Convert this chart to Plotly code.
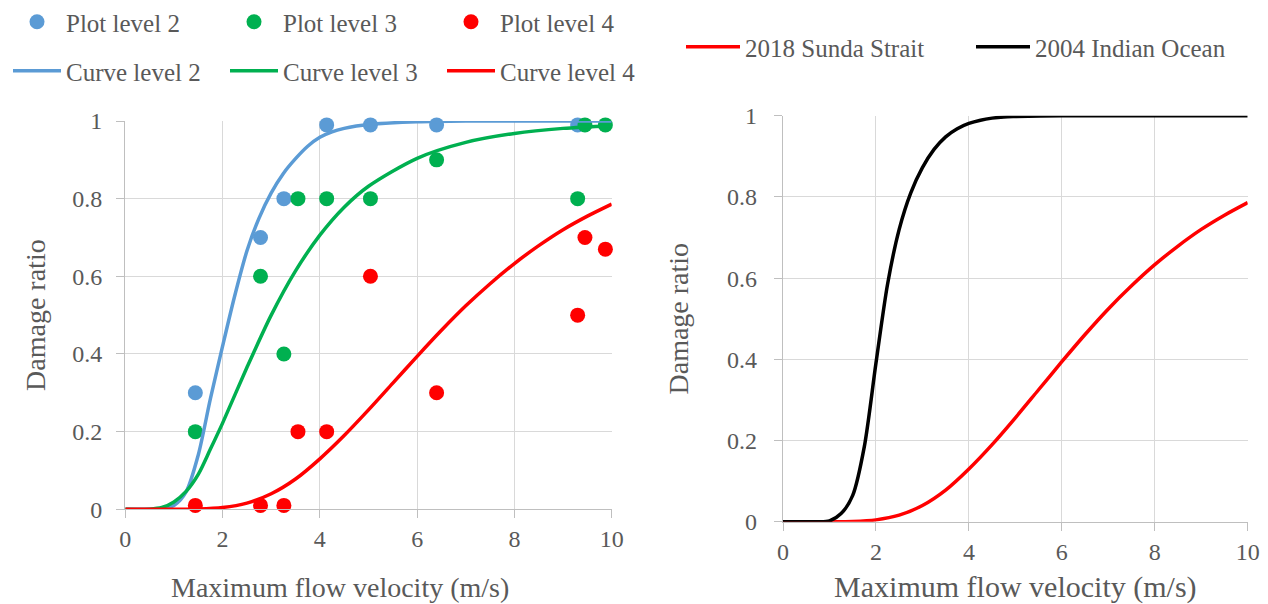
import plotly.graph_objects as go

FONT = "'Liberation Serif', 'Times New Roman', serif"
GRAY = "#595959"

# ---------------- data ----------------
# observed damage ratios (left panel)
obs_x_l2 = [1.44, 2.78, 3.26, 4.14, 5.04, 6.40, 9.30]
obs_y_l2 = [0.30, 0.70, 0.80, 0.99, 0.99, 0.99, 0.99]

obs_x_l3 = [1.44, 2.78, 3.26, 3.55, 4.14, 5.04, 6.40, 9.30, 9.45, 9.87]
obs_y_l3 = [0.20, 0.60, 0.40, 0.80, 0.80, 0.80, 0.90, 0.80, 0.99, 0.99]

obs_x_l4 = [1.44, 2.78, 3.26, 3.55, 4.14, 5.04, 6.40, 9.30, 9.45, 9.87]
obs_y_l4 = [0.01, 0.01, 0.01, 0.20, 0.20, 0.60, 0.30, 0.50, 0.70, 0.67]

# fragility curves (left panel)
curve_x_l2 = [0, 0.25, 0.5, 0.75, 1.0, 1.25, 1.5, 1.75, 2.0, 2.25, 2.5, 2.75,
              3.0, 3.25, 3.5, 3.75, 4.0, 4.25, 4.5, 4.75, 5.0, 6.0, 7.0, 8.0,
              9.0, 10.0]
curve_y_l2 = [0, 0, 0, 0.001, 0.01, 0.045, 0.14, 0.285, 0.42, 0.55, 0.665,
              0.75, 0.815, 0.865, 0.903, 0.935, 0.958, 0.972, 0.981, 0.987,
              0.991, 0.998, 1.0, 1.0, 1.0, 1.0]

curve_x_l3 = [0, 0.5, 0.75, 1.0, 1.25, 1.5, 1.75, 2.0, 2.5, 3.0, 3.5, 4.0,
              4.5, 5.0, 6.0, 7.0, 8.0, 9.0, 10.0]
curve_y_l3 = [0, 0.0004, 0.0045, 0.019, 0.046, 0.09, 0.155, 0.222, 0.365, 0.5,
              0.614, 0.706, 0.778, 0.832, 0.904, 0.945, 0.968, 0.981, 0.988]

curve_x_l4 = [0, 0.5, 1.0, 1.5, 2.0, 2.5, 3.0, 3.5, 4.0, 4.5, 5.0, 5.5, 6.0,
              6.5, 7.0, 7.5, 8.0, 8.5, 9.0, 9.5, 10.0]
curve_y_l4 = [0, 0, 0, 0.0007, 0.0045, 0.016, 0.04, 0.078, 0.13, 0.19, 0.256,
              0.325, 0.394, 0.461, 0.524, 0.581, 0.633, 0.679, 0.72, 0.755, 0.786]

# right panel curves
sunda_x = [0, 0.5, 1.0, 1.5, 2.0, 2.5, 3.0, 3.5, 4.0, 4.5, 5.0, 5.5, 6.0,
           6.5, 7.0, 7.5, 8.0, 8.5, 9.0, 9.5, 10.0]
sunda_y = [0, 0, 0, 0.0007, 0.0045, 0.016, 0.04, 0.078, 0.13, 0.19, 0.256,
           0.325, 0.394, 0.461, 0.524, 0.581, 0.633, 0.679, 0.72, 0.755, 0.786]

indian_x = [0, 0.25, 0.5, 0.75, 1.0, 1.25, 1.5, 1.75, 2.0, 2.25, 2.5, 2.75,
            3.0, 3.25, 3.5, 3.75, 4.0, 4.25, 4.5, 4.75, 5.0, 6.0, 7.0, 8.0,
            9.0, 10.0]
indian_y = [0, 0, 0, 0, 0.002, 0.02, 0.065, 0.185, 0.39, 0.585, 0.72, 0.81,
            0.872, 0.917, 0.948, 0.968, 0.981, 0.989, 0.994, 0.997, 0.998,
            1.0, 1.0, 1.0, 1.0, 1.0]

x_tick_vals = [0, 2, 4, 6, 8, 10]
x_tick_text = ["0", "2", "4", "6", "8", "10"]
y_tick_vals = [0, 0.2, 0.4, 0.6, 0.8, 1.0]
y_tick_text = ["0", "0.2", "0.4", "0.6", "0.8", "1"]

x_title = "Maximum flow velocity (m/s)"
y_title = "Damage ratio"

BLUE = "#5B9BD5"
GREEN = "#00B050"
RED = "#FF0000"
BLACK = "#000000"

# page has an 8 px body margin; the figure fills the rest of the window
W, H = 1260, 596

# ---------------- figure ----------------
fig = go.Figure()

for xs, ys, nm, col in [(obs_x_l2, obs_y_l2, "Plot level 2", BLUE),
                        (obs_x_l3, obs_y_l3, "Plot level 3", GREEN),
                        (obs_x_l4, obs_y_l4, "Plot level 4", RED)]:
    fig.add_trace(go.Scatter(x=xs, y=ys, mode="markers", name=nm,
                             marker=dict(color=col, size=15),
                             cliponaxis=False, legend="legend",
                             xaxis="x", yaxis="y"))

for xs, ys, nm, col in [(curve_x_l2, curve_y_l2, "Curve level 2", BLUE),
                        (curve_x_l3, curve_y_l3, "Curve level 3", GREEN),
                        (curve_x_l4, curve_y_l4, "Curve level 4", RED)]:
    fig.add_trace(go.Scatter(x=xs, y=ys, mode="lines", name=nm,
                             line=dict(color=col, width=3.5, shape="spline",
                                       smoothing=0.8),
                             cliponaxis=False, legend="legend2",
                             xaxis="x", yaxis="y"))

for xs, ys, nm, col in [(sunda_x, sunda_y, "2018 Sunda Strait", RED),
                        (indian_x, indian_y, "2004 Indian Ocean", BLACK)]:
    fig.add_trace(go.Scatter(x=xs, y=ys, mode="lines", name=nm,
                             line=dict(color=col, width=3.5, shape="spline",
                                       smoothing=0.8),
                             cliponaxis=False, legend="legend3",
                             xaxis="x2", yaxis="y2"))

axis_common = dict(showgrid=True, gridcolor="#D9D9D9", gridwidth=1,
                   showline=True, linecolor="#BFBFBF", linewidth=1.3,
                   ticks="outside", ticklen=8, tickcolor="#BFBFBF",
                   tickwidth=1.3, automargin=False,
                   tickfont=dict(family=FONT, size=24, color=GRAY),
                   zeroline=False, fixedrange=True)

title_font = dict(family=FONT, size=28, color=GRAY)
title_font_r = dict(family=FONT, size=30, color=GRAY)
legend_font = dict(family=FONT, size=25, color=GRAY)

fig.update_layout(
    width=W, height=H,
    margin=dict(l=0, r=0, t=0, b=0, autoexpand=False),
    paper_bgcolor="white", plot_bgcolor="white",
    font=dict(family=FONT, color=GRAY),
    xaxis=dict(domain=[117.3 / W, 603.7 / W], range=[0, 10], anchor="y",
               tickvals=x_tick_vals, ticktext=x_tick_text,
               **axis_common),
    yaxis=dict(domain=[1 - 501.3 / H, 1 - 113 / H], range=[0, 1], anchor="x",
               tickvals=y_tick_vals, ticktext=y_tick_text,
               ticklabelstandoff=9,
               title=dict(text=y_title, font=title_font, standoff=18),
               **axis_common),
    xaxis2=dict(domain=[775 / W, 1239.7 / W], range=[0, 10], anchor="y2",
                tickvals=x_tick_vals, ticktext=x_tick_text,
                title=dict(text=x_title, font=title_font_r, standoff=12),
                **axis_common),
    yaxis2=dict(domain=[1 - 513.7 / H, 1 - 107.7 / H], range=[0, 1],
                anchor="x2",
                tickvals=y_tick_vals, ticktext=y_tick_text,
                ticklabelstandoff=12,
                title=dict(text=y_title, font=title_font, standoff=30),
                **axis_common),
    legend=dict(orientation="h", x=0, y=1 - 14 / H,
                xanchor="left", yanchor="middle", font=legend_font,
                itemwidth=48, entrywidth=154, bgcolor="rgba(0,0,0,0)"),
    legend2=dict(orientation="h", x=0, y=1 - 63 / H,
                 xanchor="left", yanchor="middle", font=legend_font,
                 itemwidth=48, entrywidth=154, bgcolor="rgba(0,0,0,0)"),
    legend3=dict(orientation="h", x=673 / W, y=1 - 39 / H,
                 xanchor="left", yanchor="middle", font=legend_font,
                 itemwidth=54, entrywidth=221, bgcolor="rgba(0,0,0,0)"),
    annotations=[dict(text=x_title, xref="paper", yref="paper",
                      x=332 / W, y=0, xanchor="center",
                      yanchor="bottom", showarrow=False, borderpad=0,
                      font=dict(family=FONT, size=28, color=GRAY))],
)

fig.write_html("out.html")
